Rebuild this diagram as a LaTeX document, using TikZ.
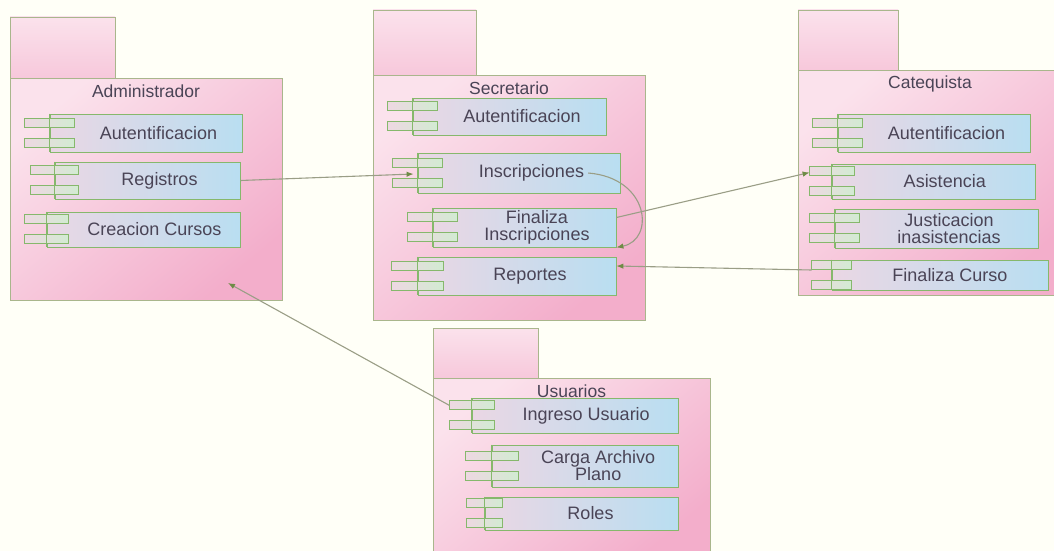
\documentclass[tikz,border=0pt]{standalone}
\usepackage{fontspec}
\setmainfont{Liberation Sans}
\usetikzlibrary{arrows.meta,calc}

\definecolor{paper}{HTML}{FFFFF7}
\definecolor{pkgline}{HTML}{A9B68C}
\definecolor{pkglight}{HTML}{FBE2EC}
\definecolor{pkgdark}{HTML}{F3AECB}
\definecolor{tabfill}{HTML}{F7C8DB}
\definecolor{compline}{HTML}{86B86C}
\definecolor{compleft}{HTML}{EAD7E4}
\definecolor{compright}{HTML}{B9DEF1}
\definecolor{stubfill}{HTML}{D2EBD2}
\definecolor{stubleft}{HTML}{EED8E2}
\definecolor{ink}{HTML}{4A4456}
\definecolor{wire}{HTML}{9A9E86}
\definecolor{tipgreen}{HTML}{6E8C46}

\tikzset{
  pkgtab/.style={draw=pkgline, line width=0.9pt, top color=pkglight, bottom color=tabfill},
  pkgbody/.style={draw=pkgline, line width=0.9pt, inner sep=0pt,
    top color=pkglight, bottom color=pkgdark, shading angle=40},
  pkgtitle/.style={text=ink, font=\fontsize{17.5}{17}\selectfont, inner sep=0pt},
  compbody/.style={draw=compline, line width=0.8pt, inner sep=0pt,
    left color=compleft, right color=compright},
  compedge/.style={draw=compline, line width=0.8pt},
  stub/.style={draw=compline, line width=0.8pt, left color=stubleft, right color=stubfill},
  comptext/.style={text=ink, font=\fontsize{18}{17}\selectfont, align=center, inner sep=0pt},
  conn/.style={draw=wire, line width=1.1pt,
    -{Latex[length=7pt,width=5.5pt,color=tipgreen]}},
}

% package: name, left, tab top, tab right, body top, body right, body bottom, title
\newcommand{\pkgbox}[8]{%
  \draw[pkgtab] (#2,#3) rectangle (#4,#5);
  \pgfmathsetmacro\pkW{#6-#2}\pgfmathsetmacro\pkH{#7-#5}%
  \pgfmathsetmacro\pkX{(#2+#6)/2}\pgfmathsetmacro\pkY{(#5+#7)/2}%
  \node[pkgbody, minimum width=\pkW pt, minimum height=\pkH pt] (#1) at (\pkX,\pkY) {};
  \node[pkgtitle] (#1-t) at ([yshift=-14pt]#1.north) {#8};
}

% component: name, left, top, right, bottom, stub width, label
\newcommand{\compbox}[7]{%
  \pgfmathsetmacro\cmW{#4-#2}\pgfmathsetmacro\cmH{#5-#3}%
  \pgfmathsetmacro\cmX{(#2+#4)/2}\pgfmathsetmacro\cmY{(#3+#5)/2}%
  \pgfmathsetmacro\cmS{#6/2}\pgfmathsetmacro\cmT{#6/4}%
  \node[compbody, minimum width=\cmW pt, minimum height=\cmH pt] (#1) at (\cmX,\cmY) {};
  \draw[stub] ([xshift=-\cmS pt,yshift=6pt]#1.west) rectangle ([xshift=\cmS pt,yshift=15pt]#1.west);
  \draw[stub] ([xshift=-\cmS pt,yshift=-5pt]#1.west) rectangle ([xshift=\cmS pt,yshift=-14pt]#1.west);
  \draw[compedge] (#1.north west) -- (#1.south west);
  \node[comptext] (#1-t) at ([xshift=\cmT pt]#1.center) {#7};
}

\begin{document}
\begin{tikzpicture}[x=1pt,y=-1pt]
\useasboundingbox[fill=paper] (0,0) rectangle (1054,551);
\clip (0,0) rectangle (1054,551);

% packages
\pkgbox{admin}{10}{17}{115}{78}{282}{300}{Administrador}
\pkgbox{secr}{373}{10}{476}{75}{645}{320}{Secretario}
\pkgbox{cateq}{798}{10}{898}{70}{1062}{295}{Catequista}
\pkgbox{users}{433}{328}{538}{378}{710}{560}{Usuarios}

% Administrador
\compbox{A1}{50}{114}{242}{152}{50}{Autentificacion}
\compbox{A2}{55}{162}{240}{199}{48}{Registros}
\compbox{A3}{47}{212}{240}{247}{44}{Creacion Cursos}

% Secretario
\compbox{S1}{413}{98}{606}{135}{50}{Autentificacion}
\compbox{S2}{418}{153}{620}{193}{50}{Inscripciones}
\compbox{S3}{433}{208}{616}{247}{50}{Finaliza\\Inscripciones}
\compbox{S4}{418}{257}{616}{295}{52}{Reportes}

% Catequista
\compbox{C1}{838}{114}{1030}{152}{50}{Autentificacion}
\compbox{C2}{832}{164}{1035}{199}{45}{Asistencia}
\compbox{C3}{835}{209}{1038}{248}{50}{Justicacion\\inasistencias}
\compbox{C4}{832}{260}{1048}{290}{40}{Finaliza Curso}

% Usuarios
\compbox{U1}{472}{398}{678}{433}{45}{Ingreso Usuario}
\compbox{U2}{492}{445}{678}{487}{53}{Carga Archivo\\Plano}
\compbox{U3}{485}{497}{678}{530}{36}{Roles}

% dependencies
\coordinate (adminport) at (228,283);
\draw[conn] (A2.east) -- ([xshift=-4pt,yshift=-1pt]S2.west);
\draw[conn] ([xshift=4pt]S2-t.east) .. controls (650,178) and (655,240) .. (S3.south east);
\draw[conn] ([yshift=10pt]S3.east) -- ([xshift=-22pt,yshift=9pt]C2.west);
\draw[conn] ([xshift=-20pt,yshift=5pt]C4.west) -- ([yshift=10pt]S4.east);
\draw[conn] ([xshift=-22pt,yshift=10pt]U1.west) -- (adminport);
\end{tikzpicture}
\end{document}
